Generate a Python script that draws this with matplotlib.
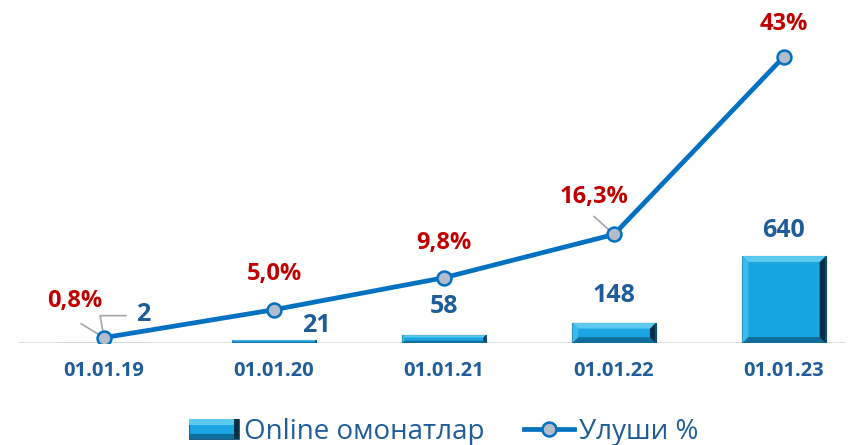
import numpy as np
import matplotlib.pyplot as plt
from matplotlib.patches import Rectangle, Polygon
from matplotlib.lines import Line2D
from matplotlib.legend_handler import HandlerPatch

dates = ['01.01.19', '01.01.20', '01.01.21', '01.01.22', '01.01.23']
online = [2, 21, 58, 148, 640]
share = [0.8, 5.0, 9.8, 16.3, 43.0]
share_txt = ['0,8%', '5,0%', '9,8%', '16,3%', '43%']

blue_txt = '#1F5C99'
red_txt = '#C00000'
line_c = '#0070C0'
bar_c = '#1AA5E2'

plt.rcParams['font.family'] = ['Open Sans', 'DejaVu Sans']

fig = plt.figure(figsize=(8.53, 4.45), dpi=100)
ax = fig.add_axes([19/853, 102/445, (845-19)/853, 343/445])
ax2 = ax.twinx()
x = np.arange(len(dates))

ax.set_xlim(-0.5, (845-104)/170)
ax.set_ylim(0, 2524)
ax2.set_ylim(0, 51.5)

bars = ax.bar(x, online, width=0.49, color=bar_c, edgecolor='#0A4A70', linewidth=0.8, zorder=2)

# bevel look
fig.canvas.draw()
tr = ax.transData
inv = tr.inverted()
cols = ['#0E6E9C', '#052F45', '#5CC9EF', '#3BBBEC']  # bottom, right, top, left


def bevel(target, x0, y0, x1, y1, to_data, z):
    d = min(6, (y1 - y0) / 3.5)
    if d < 0.8:
        return
    outer = [(x0, y0), (x1, y0), (x1, y1), (x0, y1)]
    inner = [(x0 + d, y0 + d), (x1 - d, y0 + d), (x1 - d, y1 - d), (x0 + d, y1 - d)]
    for i, c in enumerate(cols):
        poly = [outer[i], outer[(i+1) % 4], inner[(i+1) % 4], inner[i]]
        target.add_patch(Polygon(to_data(poly), closed=True, facecolor=c, edgecolor='none', zorder=z))


for b in bars:
    x0, y0 = tr.transform((b.get_x(), b.get_y()))
    x1, y1 = tr.transform((b.get_x() + b.get_width(), b.get_y() + b.get_height()))
    bevel(ax, x0, y0, x1, y1, inv.transform, 3)

ax.axhline(0, color='#D9D9D9', lw=1.2, zorder=1)

ax2.plot(x, share, color=line_c, lw=3.4, marker='o', ms=10, mfc='#B4BCCB',
         mec=line_c, mew=1.8, zorder=5)

for a in (ax, ax2):
    for s in a.spines.values():
        s.set_visible(False)
ax2.set_yticks([])
ax.set_yticks([])
ax.set_xticks(x)
ax.set_xticklabels(dates, fontsize=14.5, fontweight='bold', color=blue_txt)
ax.tick_params(axis='x', length=0, pad=13)

# bar labels
bar_off = [(39, 28), (42, 15), (0, 29), (0, 27), (0, 26)]
for i, v in enumerate(online):
    ax.annotate(str(v), (x[i], v), textcoords='offset pixels', xytext=bar_off[i],
                ha='center', va='center', fontsize=18, fontweight='bold', color=blue_txt, zorder=6)
# leader for "2"
ax2.annotate('', (x[0], share[0]), textcoords='offset pixels', xytext=(22, 22),
             arrowprops=dict(arrowstyle='-', color='#A6A6A6', lw=1.2, shrinkA=0, shrinkB=3,
                             connectionstyle='angle,angleA=0,angleB=100,rad=0'),
             zorder=4)

pct_off = [(-29, 37), (0, 36), (0, 35), (-20, 37), (0, 33)]
for i, v in enumerate(share):
    ax2.annotate(share_txt[i], (x[i], v), textcoords='offset pixels', xytext=pct_off[i],
                 ha='center', va='center', fontsize=17, fontweight='bold', color=red_txt, zorder=6)
for i, dx, dy in [(0, -23, 14), (3, -20, 18)]:
    ax2.annotate('', (x[i], share[i]), textcoords='offset pixels', xytext=(dx, dy),
                 arrowprops=dict(arrowstyle='-', color='#A6A6A6', lw=1.2, shrinkA=0, shrinkB=2), zorder=4)


class BarHandler(HandlerPatch):
    def create_artists(self, legend, orig, xd, yd, w, h, fs, trans):
        r = Rectangle((-xd, -yd), w, h, facecolor=bar_c, edgecolor='#0A4A70', lw=0.6, transform=trans)
        top = Rectangle((-xd, -yd + h*0.72), w, h*0.28, facecolor='#5CC9EF', edgecolor='none', transform=trans)
        bot = Rectangle((-xd, -yd), w, h*0.25, facecolor='#0E6E9C', edgecolor='none', transform=trans)
        side = Rectangle((-xd + w*0.9, -yd), w*0.1, h, facecolor='#052F45', edgecolor='none', transform=trans)
        return [r, top, bot, side]


h1 = Rectangle((0, 0), 1, 1)
h2 = Line2D([], [], color=line_c, lw=3.4, marker='o', ms=10, mfc='#B4BCCB', mec=line_c, mew=1.8)
fig.legend([h1, h2], ['Online омонатлар', 'Улуши %'], loc='center', bbox_to_anchor=(0.52, 1 - 432/445),
           ncol=2, frameon=False, fontsize=20, labelcolor=blue_txt, handlelength=1.8, handleheight=0.75,
           handletextpad=0.2, columnspacing=1.4, handler_map={Rectangle: BarHandler()})

fig.savefig('out.png', dpi=100)
